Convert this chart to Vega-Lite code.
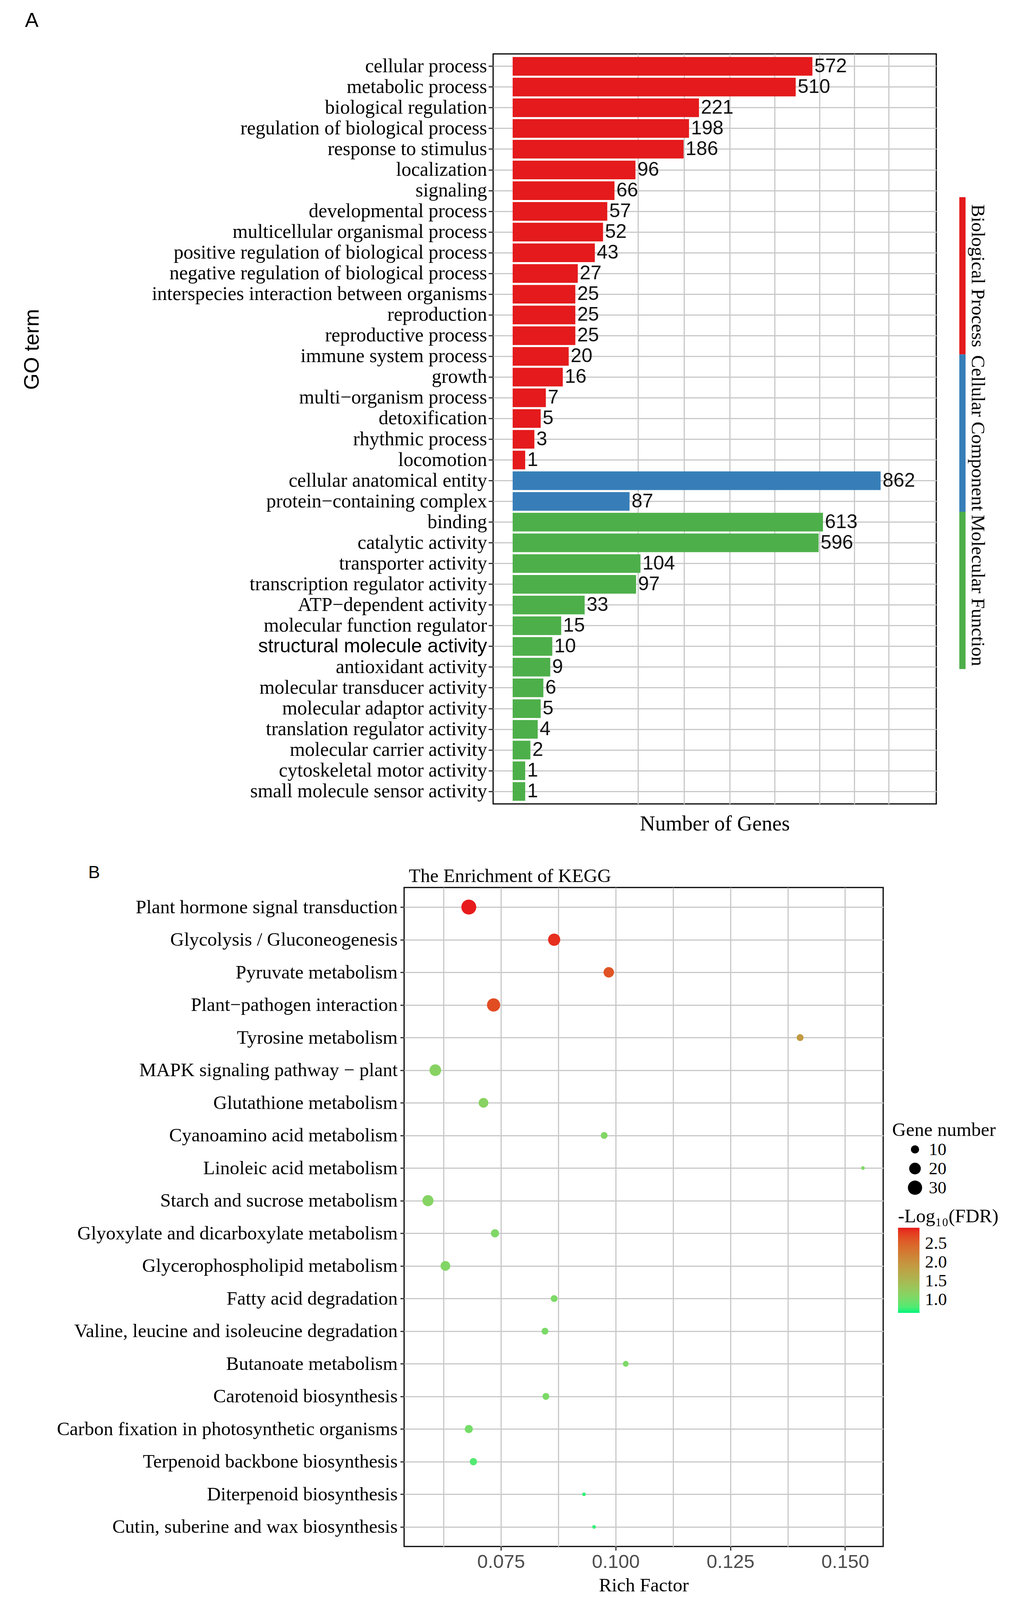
{
  "$schema": "https://vega.github.io/schema/vega-lite/v6.json",
  "background": "white",
  "padding": {"top": 25, "left": 53, "right": 5, "bottom": 5},
  "config": {
    "font": "Liberation Serif",
    "view": {"stroke": "black", "strokeWidth": 3},
    "axis": {"domain": false, "gridColor": "#C9C9C9", "gridWidth": 3, "tickColor": "#333333", "tickWidth": 3, "labelColor": "#000000", "labelFont": "Liberation Serif", "labelLimit": 3000, "titleColor": "#000000", "titleFont": "Liberation Serif", "titleFontWeight": "normal"},
    "legend": {"labelLimit": 3000, "titleLimit": 3000, "titleFontWeight": "normal", "titleColor": "#000000", "labelColor": "#000000", "labelFont": "Liberation Serif", "titleFont": "Liberation Serif"},
    "title": {"fontWeight": "normal", "color": "#000000"}
  },
  "datasets": {
    "go": [
      {"term": "cellular process", "count": 572, "ont": "Biological Process"},
      {"term": "metabolic process", "count": 510, "ont": "Biological Process"},
      {"term": "biological regulation", "count": 221, "ont": "Biological Process"},
      {"term": "regulation of biological process", "count": 198, "ont": "Biological Process"},
      {"term": "response to stimulus", "count": 186, "ont": "Biological Process"},
      {"term": "localization", "count": 96, "ont": "Biological Process"},
      {"term": "signaling", "count": 66, "ont": "Biological Process"},
      {"term": "developmental process", "count": 57, "ont": "Biological Process"},
      {"term": "multicellular organismal process", "count": 52, "ont": "Biological Process"},
      {"term": "positive regulation of biological process", "count": 43, "ont": "Biological Process"},
      {"term": "negative regulation of biological process", "count": 27, "ont": "Biological Process"},
      {"term": "interspecies interaction between organisms", "count": 25, "ont": "Biological Process"},
      {"term": "reproduction", "count": 25, "ont": "Biological Process"},
      {"term": "reproductive process", "count": 25, "ont": "Biological Process"},
      {"term": "immune system process", "count": 20, "ont": "Biological Process"},
      {"term": "growth", "count": 16, "ont": "Biological Process"},
      {"term": "multi−organism process", "count": 7, "ont": "Biological Process"},
      {"term": "detoxification", "count": 5, "ont": "Biological Process"},
      {"term": "rhythmic process", "count": 3, "ont": "Biological Process"},
      {"term": "locomotion", "count": 1, "ont": "Biological Process"},
      {"term": "cellular anatomical entity", "count": 862, "ont": "Cellular Component"},
      {"term": "protein−containing complex", "count": 87, "ont": "Cellular Component"},
      {"term": "binding", "count": 613, "ont": "Molecular Function"},
      {"term": "catalytic activity", "count": 596, "ont": "Molecular Function"},
      {"term": "transporter activity", "count": 104, "ont": "Molecular Function"},
      {"term": "transcription regulator activity", "count": 97, "ont": "Molecular Function"},
      {"term": "ATP−dependent activity", "count": 33, "ont": "Molecular Function"},
      {"term": "molecular function regulator", "count": 15, "ont": "Molecular Function"},
      {"term": "structural molecule activity", "count": 10, "ont": "Molecular Function"},
      {"term": "antioxidant activity", "count": 9, "ont": "Molecular Function"},
      {"term": "molecular transducer activity", "count": 6, "ont": "Molecular Function"},
      {"term": "molecular adaptor activity", "count": 5, "ont": "Molecular Function"},
      {"term": "translation regulator activity", "count": 4, "ont": "Molecular Function"},
      {"term": "molecular carrier activity", "count": 2, "ont": "Molecular Function"},
      {"term": "cytoskeletal motor activity", "count": 1, "ont": "Molecular Function"},
      {"term": "small molecule sensor activity", "count": 1, "ont": "Molecular Function"}
    ],
    "ontologies": [
      {"ont": "Biological Process"},
      {"ont": "Cellular Component"},
      {"ont": "Molecular Function"}
    ],
    "empty": [],
    "kegg": [
      {"pathway": "Plant hormone signal transduction", "rich_factor": 0.0680, "gene_number": 33, "neg_log10_fdr": 2.92},
      {"pathway": "Glycolysis / Gluconeogenesis", "rich_factor": 0.0866, "gene_number": 22, "neg_log10_fdr": 2.85},
      {"pathway": "Pyruvate metabolism", "rich_factor": 0.0985, "gene_number": 16, "neg_log10_fdr": 2.62},
      {"pathway": "Plant−pathogen interaction", "rich_factor": 0.0734, "gene_number": 26, "neg_log10_fdr": 2.68},
      {"pathway": "Tyrosine metabolism", "rich_factor": 0.1402, "gene_number": 7, "neg_log10_fdr": 1.9},
      {"pathway": "MAPK signaling pathway − plant", "rich_factor": 0.0607, "gene_number": 20, "neg_log10_fdr": 1.15},
      {"pathway": "Glutathione metabolism", "rich_factor": 0.0712, "gene_number": 14, "neg_log10_fdr": 1.15},
      {"pathway": "Cyanoamino acid metabolism", "rich_factor": 0.0975, "gene_number": 7, "neg_log10_fdr": 1.1},
      {"pathway": "Linoleic acid metabolism", "rich_factor": 0.1539, "gene_number": 2, "neg_log10_fdr": 1.1},
      {"pathway": "Starch and sucrose metabolism", "rich_factor": 0.0591, "gene_number": 18, "neg_log10_fdr": 1.12},
      {"pathway": "Glyoxylate and dicarboxylate metabolism", "rich_factor": 0.0737, "gene_number": 10, "neg_log10_fdr": 1.08},
      {"pathway": "Glycerophospholipid metabolism", "rich_factor": 0.0629, "gene_number": 14, "neg_log10_fdr": 1.1},
      {"pathway": "Fatty acid degradation", "rich_factor": 0.0866, "gene_number": 7, "neg_log10_fdr": 1.05},
      {"pathway": "Valine, leucine and isoleucine degradation", "rich_factor": 0.0846, "gene_number": 7, "neg_log10_fdr": 1.05},
      {"pathway": "Butanoate metabolism", "rich_factor": 0.1022, "gene_number": 5, "neg_log10_fdr": 1.05},
      {"pathway": "Carotenoid biosynthesis", "rich_factor": 0.0848, "gene_number": 7, "neg_log10_fdr": 1.05},
      {"pathway": "Carbon fixation in photosynthetic organisms", "rich_factor": 0.0680, "gene_number": 10, "neg_log10_fdr": 1.0},
      {"pathway": "Terpenoid backbone biosynthesis", "rich_factor": 0.0690, "gene_number": 8, "neg_log10_fdr": 0.82},
      {"pathway": "Diterpenoid biosynthesis", "rich_factor": 0.0931, "gene_number": 2, "neg_log10_fdr": 0.72},
      {"pathway": "Cutin, suberine and wax biosynthesis", "rich_factor": 0.0953, "gene_number": 2, "neg_log10_fdr": 0.72}
    ]
  },
  "concat": [
    {
      "hconcat": [
        {
          "width": 169,
          "height": 1,
          "view": {"stroke": null},
          "data": {"name": "empty"},
          "mark": {"type": "point"},
          "encoding": {}
        },
        {
          "width": 1135,
          "height": 1920,
          "title": {"text": "A", "anchor": "start", "frame": "group", "font": "Liberation Sans", "fontSize": 52, "baseline": "alphabetic", "offset": 17, "dx": -1199},
          "data": {"name": "go"},
          "encoding": {
            "y": {
              "field": "term", "type": "nominal", "sort": null,
              "scale": {"type": "band", "paddingInner": 0.1, "paddingOuter": 0.15},
              "axis": {
                "title": "GO term", "titleFont": "Liberation Sans", "titleFontSize": 54, "titleX": -1154, "titleY": 756, "titleBaseline": "bottom",
                "labelFontSize": 50, "labelPadding": 4, "tickSize": 12, "grid": true,
                "labelFont": {"condition": {"test": "datum.value === 'structural molecule activity'", "value": "Liberation Sans"}, "value": "Liberation Serif"}
              }
            },
            "x": {
              "field": "count", "type": "quantitative",
              "scale": {"type": "pow", "exponent": 0.5, "domain": [-2.43, 1142.5], "nice": false, "zero": false},
              "axis": {"title": "Number of Genes", "titleFontSize": 54, "titlePadding": 24, "labels": false, "ticks": false, "grid": true, "values": [100, 186.6, 300, 437.3, 600, 742.4, 900]}
            }
          },
          "layer": [
            {
              "mark": {"type": "bar"},
              "encoding": {
                "color": {"field": "ont", "type": "nominal", "scale": {"domain": ["Biological Process", "Cellular Component", "Molecular Function"], "range": ["#E41A1C", "#377EB8", "#4DAF4A"]}, "legend": null}
              }
            },
            {
              "mark": {"type": "text", "align": "left", "baseline": "middle", "dx": 5, "font": "Liberation Sans", "fontSize": 50, "color": "#111111"},
              "encoding": {"text": {"field": "count", "type": "quantitative"}}
            }
          ]
        },
        {
          "width": 16,
          "height": 1920,
          "view": {"stroke": null},
          "data": {"name": "ontologies"},
          "encoding": {
            "y": {"field": "ont", "type": "nominal", "sort": null, "scale": {"type": "band", "paddingInner": 0, "paddingOuter": 0.884, "align": 0.515}, "axis": null}
          },
          "layer": [
            {
              "mark": {"type": "rect"},
              "encoding": {
                "x": {"datum": 0, "type": "quantitative", "scale": {"domain": [0, 1], "nice": false, "zero": false}, "axis": null},
                "x2": {"datum": 1},
                "color": {"field": "ont", "type": "nominal", "scale": {"domain": ["Biological Process", "Cellular Component", "Molecular Function"], "range": ["#E41A1C", "#377EB8", "#4DAF4A"]}, "legend": null}
              }
            },
            {
              "mark": {"type": "text", "angle": 90, "align": "center", "baseline": "bottom", "dy": -6, "font": "Liberation Serif", "fontSize": 49, "color": "#000000"},
              "encoding": {
                "x": {"datum": 1, "type": "quantitative"},
                "text": {"field": "ont", "type": "nominal"}
              }
            }
          ]
        }
      ],
      "spacing": 59,
      "bounds": "flush"
    },
    {
      "title": {"text": "B", "anchor": "start", "frame": "group", "font": "Liberation Sans", "fontSize": 45, "baseline": "alphabetic", "offset": -75, "dx": -809},
      "vconcat": [
        {
          "width": 1227,
          "height": 1687,
          "title": {"text": "The Enrichment of KEGG", "anchor": "start", "frame": "group", "font": "Liberation Serif", "fontSize": 49, "baseline": "alphabetic", "offset": -35, "dx": 12},
          "data": {"name": "kegg"},
          "mark": {"type": "circle", "opacity": 1},
          "encoding": {
            "y": {
              "field": "pathway", "type": "nominal", "sort": null,
              "scale": {"type": "point", "padding": 0.6},
              "axis": {"title": null, "labelFontSize": 49, "labelPadding": 7, "tickSize": 10, "grid": true}
            },
            "x": {
              "field": "rich_factor", "type": "quantitative",
              "scale": {"domain": [0.0539, 0.1583], "nice": false, "zero": false},
              "axis": {
                "title": "Rich Factor", "titleFontSize": 49, "titlePadding": 11,
                "values": [0.0625, 0.075, 0.0875, 0.1, 0.1125, 0.125, 0.1375, 0.15],
                "labelExpr": "abs(datum.value * 40 - round(datum.value * 40)) < 0.001 ? format(datum.value, '.3f') : ''",
                "labelFont": "Liberation Sans", "labelFontSize": 49, "labelColor": "#4D4D4D", "labelPadding": 5, "labelOverlap": false, "labelFlush": false,
                "tickSize": 10,
                "tickOpacity": {"condition": {"test": "abs(datum.value * 40 - round(datum.value * 40)) < 0.001", "value": 1}, "value": 0},
                "grid": true
              }
            },
            "size": {
              "field": "gene_number", "type": "quantitative",
              "scale": {"domain": [0, 40], "range": [0, 1773], "zero": true},
              "legend": {"title": "Gene number", "orient": "none", "legendX": 1250, "legendY": 2731, "values": [10, 20, 30], "symbolType": "circle", "symbolFillColor": "#000000", "symbolStrokeColor": "#000000", "symbolStrokeWidth": 0, "symbolOffset": 36, "labelFontSize": 45, "labelOffset": 13, "titleFontSize": 49, "titlePadding": 2, "rowPadding": 3}
            },
            "color": {
              "field": "neg_log10_fdr", "type": "quantitative",
              "scale": {"domain": [0.65, 2.92], "range": ["#00F57A", "#E81B1C"], "interpolate": "lab"},
              "legend": {"title": "-Log₁₀(FDR)", "orient": "none", "legendX": 1265, "legendY": 818, "values": [1, 1.5, 2, 2.5], "format": ".1f", "direction": "vertical", "gradientLength": 218, "gradientThickness": 55, "gradientStrokeWidth": 0, "labelFontSize": 45, "labelOffset": 14, "titleFontSize": 49, "titlePadding": 4}
            }
          }
        }
      ]
    }
  ],
  "columns": 1,
  "align": "none",
  "spacing": 73
}
